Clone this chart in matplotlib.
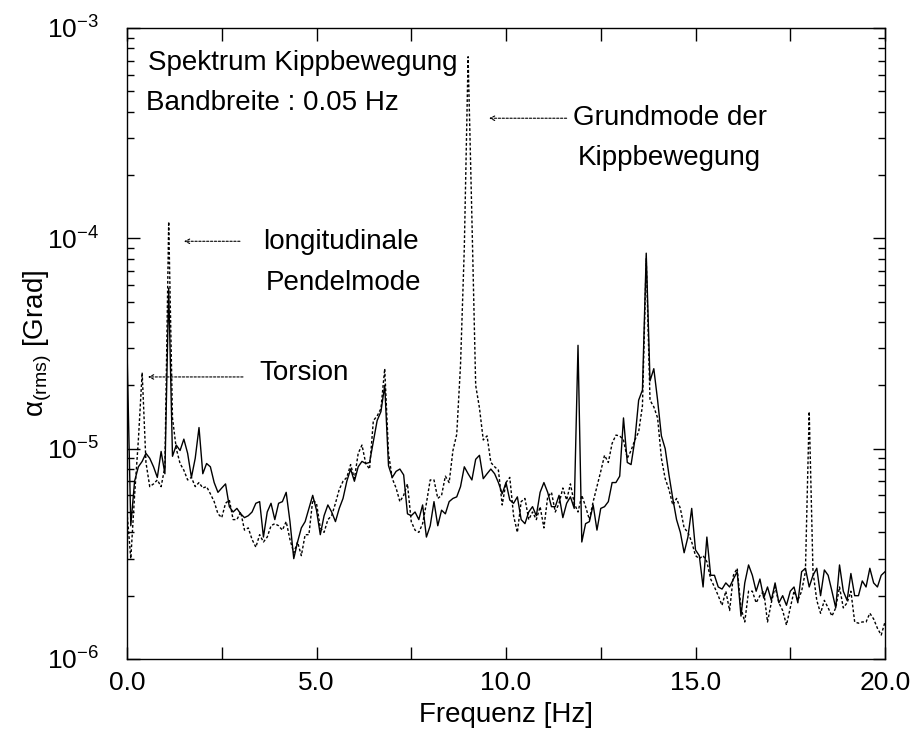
import numpy as np
import matplotlib
matplotlib.use("Agg")
import matplotlib.pyplot as plt
from matplotlib.ticker import FuncFormatter, LogLocator, LogFormatterSciNotation

plt.rcParams['font.family'] = ['Liberation Sans', 'DejaVu Sans']
plt.rcParams['mathtext.fontset'] = 'custom'
plt.rcParams['mathtext.rm'] = 'Liberation Sans'
plt.rcParams['mathtext.it'] = 'Liberation Sans:italic'

# frequency grid (Hz), 0.1 Hz steps
freq = np.round(np.arange(0, 20.0001, 0.1), 2)

# amplitudes in units of 1e-6 Grad
solid_vals = [
    30, 4.3, 7.0, 8.2, 8.7, 9.5, 9.0, 8.2, 7.3, 9.7,
    7.6, 58, 9.2, 10.4, 9.8, 11.1, 9.5, 7.3, 9.0, 12.6,
    7.6, 8.5, 8.2, 6.9, 6.2, 6.5, 6.8, 5.3, 5.0, 5.2,
    4.9, 4.7, 4.8, 5.0, 5.5, 5.6, 3.8, 5.0, 5.5, 4.6,
    5.5, 5.6, 6.2, 4.5, 3.0, 3.6, 4.2, 4.5, 5.2, 6.0,
    5.1, 3.9, 4.8, 5.4, 5.0, 4.5, 5.2, 5.8, 7.0, 8.0,
    7.0, 8.2, 8.7, 8.5, 8.6, 10.8, 13.6, 15.0, 20, 8.3,
    7.3, 7.8, 8.0, 7.5, 4.9, 4.8, 5.0, 4.6, 5.4, 3.8,
    4.3, 5.6, 4.3, 5.1, 4.9, 5.6, 5.8, 5.9, 6.6, 8.2,
    7.6, 7.1, 8.9, 9.3, 7.2, 7.6, 8.0, 7.6, 6.9, 6.1,
    6.9, 5.7, 5.5, 5.9, 4.6, 4.4, 5.0, 5.3, 4.8, 6.2,
    6.9, 6.2, 5.3, 5.3, 6.0, 4.7, 5.5, 5.9, 5.2, 31,
    3.6, 4.4, 4.5, 5.4, 4.1, 5.2, 5.3, 5.6, 6.9, 6.9,
    7.4, 14.0, 8.6, 8.4, 11.0, 17, 19, 85, 21, 24,
    17, 11.5, 10.0, 7.5, 5.8, 4.6, 4.0, 3.2, 3.8, 5.2,
    3.3, 3.1, 2.2, 3.8, 2.5, 2.5, 2.2, 2.15, 2.3, 2.2,
    2.4, 2.6, 1.6, 2.3, 2.8, 2.5, 2.1, 2.4, 1.95, 2.2,
    1.9, 2.3, 1.85, 2.0, 1.8, 2.1, 2.2, 1.85, 2.6, 2.7,
    2.2, 2.5, 2.7, 2.0, 2.65, 2.5, 2.1, 1.75, 2.8, 2.1,
    1.9, 2.55, 2.0, 2.0, 2.35, 2.2, 2.7, 2.3, 2.2, 2.5,
    2.6,
]

dotted_vals = [
    5.0, 3.0, 6.0, 11, 23, 8.6, 6.6, 6.8, 7.1, 6.6,
    8.2, 120, 14, 10, 8.5, 7.9, 7.1, 7.3, 6.6, 6.9,
    6.5, 6.6, 6.1, 5.6, 4.9, 4.7, 5.5, 5.7, 4.6, 4.6,
    5.0, 4.1, 4.2, 3.7, 3.4, 3.9, 3.6, 3.8, 4.3, 4.4,
    4.3, 4.1, 4.5, 3.7, 3.2, 3.6, 3.1, 3.9, 3.9, 5.7,
    5.5, 4.2, 4.0, 4.6, 4.8, 5.5, 6.4, 7.0, 7.3, 8.4,
    7.2, 9.5, 10.4, 8.5, 8.0, 13.6, 14.3, 15.5, 24, 9.5,
    7.2, 6.5, 5.6, 6.0, 6.8, 4.5, 4.1, 4.0, 4.4, 5.5,
    7.1, 7.1, 5.8, 6.0, 7.4, 6.9, 9.8, 11.7, 25, 90,
    730, 125, 20, 15.6, 11, 11.5, 8.6, 8.2, 7.9, 5.4,
    6.9, 7.3, 4.8, 4.0, 5.6, 5.8, 4.6, 5.0, 4.6, 5.3,
    4.2, 5.9, 6.2, 5.0, 5.5, 6.5, 5.7, 6.8, 5.5, 5.0,
    6.0, 5.3, 4.6, 5.6, 6.6, 7.8, 9.3, 8.6, 10.6, 11.6,
    11.5, 11.0, 9.0, 9.8, 11.0, 12.0, 16, 80, 17, 15.8,
    14, 9.0, 7.2, 6.4, 5.4, 5.8, 5.2, 4.2, 4.0, 3.6,
    3.1, 3.0, 3.1, 2.9, 2.4, 2.2, 2.0, 1.8, 2.1, 1.7,
    2.5, 2.7, 1.75, 1.5, 2.1, 2.1, 1.85, 2.0, 2.1, 1.5,
    1.85, 2.2, 1.85, 1.7, 1.45, 1.75, 2.1, 1.9, 2.1, 2.6,
    15, 2.6, 1.9, 1.65, 1.9, 1.75, 1.6, 1.75, 2.2, 1.75,
    1.85, 2.1, 1.5, 1.48, 1.5, 1.5, 1.65, 1.55, 1.4, 1.3,
    1.5,
]

scale = 1e-6
solid = np.array(solid_vals) * scale
dotted = np.array(dotted_vals) * scale

x_ticks = [0.0, 2.5, 5.0, 7.5, 10.0, 12.5, 15.0, 17.5, 20.0]

fig = plt.figure(figsize=(9.12, 7.33), dpi=100)
ax = fig.add_axes([127/912, 1-659/733, 758/912, 631/733])

ax.plot(freq, solid, color='black', lw=1.0, ls='-')
ax.plot(freq, dotted, color='black', lw=1.0, ls=(0, (2, 1.5)))

ax.set_yscale('log')
ax.set_xlim(0, 20)
ax.set_ylim(1e-6, 1e-3)

tick_fs = 19
lab_fs = 20
ax.xaxis.set_major_locator(plt.FixedLocator(x_ticks))
ax.xaxis.set_major_formatter(FuncFormatter(lambda v, p: f"{v:.1f}" if abs(v % 5) < 1e-9 else ""))
ax.yaxis.set_major_locator(LogLocator(base=10, numticks=10))
ax.yaxis.set_minor_locator(LogLocator(base=10, subs=np.arange(2, 10), numticks=20))
ax.yaxis.set_major_formatter(LogFormatterSciNotation())
ax.yaxis.set_minor_formatter(plt.NullFormatter())
ax.tick_params(which='both', direction='in', top=True, right=True, labelsize=tick_fs, width=1)
ax.tick_params(which='major', length=9)
ax.tick_params(axis='x', which='major', pad=9)
ax.tick_params(axis='y', which='major', pad=20)
ax.tick_params(which='minor', length=5)
for s in ax.spines.values():
    s.set_linewidth(1.0)

ax.set_xlabel('Frequenz [Hz]', fontsize=lab_fs)
ax.set_ylabel(r'α$_{\mathregular{(rms)}}$ [Grad]', fontsize=lab_fs)
ax.xaxis.set_label_coords(0.5, -0.0887)
ax.xaxis.label.set_va('center')
ax.yaxis.set_label_coords(-0.117, 0.5)
ax.yaxis.label.set_va('center')

tfs = 20
ax.text(0.0277, 0.9445, 'Spektrum Kippbewegung', transform=ax.transAxes, fontsize=tfs, ha='left', va='center')
ax.text(0.025, 0.881, 'Bandbreite : 0.05 Hz', transform=ax.transAxes, fontsize=tfs, ha='left', va='center')
ax.text(0.7157, 0.857, 'Grundmode der', transform=ax.transAxes, fontsize=tfs, ha='center', va='center')
ax.text(0.715, 0.794, 'Kippbewegung', transform=ax.transAxes, fontsize=tfs, ha='center', va='center')
ax.text(0.282, 0.661, 'longitudinale', transform=ax.transAxes, fontsize=tfs, ha='center', va='center')
ax.text(0.286, 0.596, 'Pendelmode', transform=ax.transAxes, fontsize=tfs, ha='center', va='center')
ax.text(0.2335, 0.453, 'Torsion', transform=ax.transAxes, fontsize=tfs, ha='center', va='center')

arrow_kw = dict(arrowstyle='->', color='black', lw=0.8, linestyle=(0, (2, 1.5)), shrinkA=0, shrinkB=0, mutation_scale=8)
ax.annotate('', xy=(0.4776, 0.857), xytext=(0.580, 0.857), xycoords='axes fraction', textcoords='axes fraction', arrowprops=arrow_kw)
ax.annotate('', xy=(0.0752, 0.662), xytext=(0.149, 0.662), xycoords='axes fraction', textcoords='axes fraction', arrowprops=arrow_kw)
ax.annotate('', xy=(0.0277, 0.447), xytext=(0.153, 0.447), xycoords='axes fraction', textcoords='axes fraction', arrowprops=arrow_kw)

fig.savefig('out.png', dpi=100)
